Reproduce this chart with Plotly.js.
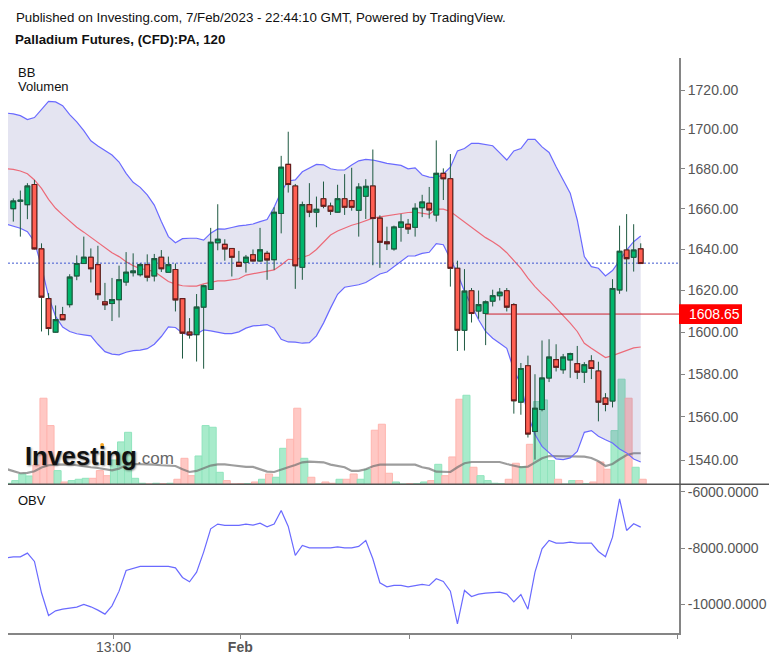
<!DOCTYPE html>
<html><head><meta charset="utf-8">
<script src="https://cdn.plot.ly/plotly-3.0.1.min.js"></script>
<style>html,body{margin:0;padding:0;background:#fff}</style></head>
<body><div id="chart" style="width:776px;height:662px"></div>
<script>
const open_ = [1660.1,1663.8,1662.1,1672.1,1640.3,1616.1,1600,1608.4,1613.2,1627.1,1633.1,1636.2,1632.6,1614.5,1613.7,1615.6,1624.1,1628.7,1627.7,1632.6,1627.1,1636.2,1628.9,1630.2,1616.1,1600,1598.8,1612,1620.5,1643.3,1642.5,1640.5,1633.7,1633.6,1637.4,1634.4,1638.1,1635,1657.7,1682.2,1671.4,1631.3,1662.1,1658.4,1665,1661.4,1658.4,1665,1664.1,1659.3,1666.3,1671.4,1655.4,1643.7,1640.3,1650.9,1652.4,1650.9,1660.6,1662.8,1657,1677.7,1675,1630.8,1600.9,1619.9,1610.1,1608.9,1614.9,1617.5,1619.9,1613.2,1566.9,1584,1553.2,1563.4,1578.2,1586.9,1582.1,1586.8,1585,1581,1586.3,1581.5,1568.8,1567.4,1620.3,1639.7,1636.2,1640.3];
const high = [1665.2,1669.1,1672.8,1674.4,1643,1618.7,1612.8,1612.1,1627.9,1637.1,1646.3,1640.5,1641.8,1623.7,1626.1,1632.1,1638.7,1638.1,1633.3,1637.6,1637.8,1639.7,1636.5,1633.1,1616.1,1606.7,1618.3,1622.8,1650.6,1662.3,1645,1640.5,1639.3,1637.3,1640,1650.6,1639.3,1660.8,1686.5,1698.7,1672.4,1663.6,1672.8,1666.1,1673.6,1663.1,1672,1677.3,1680.5,1672.8,1674.8,1689.7,1656.8,1651.2,1651.7,1657.5,1655,1662.8,1667,1670.9,1694.3,1680.2,1687.4,1634.5,1630.4,1621.2,1620,1615.2,1620.4,1621.2,1621.2,1613.9,1585.3,1588.8,1580,1596,1596.6,1594.2,1589.6,1590.2,1593.4,1585.7,1589,1585.9,1571.1,1625.5,1651.7,1657.4,1652.4,1643];
const low = [1653.7,1646.3,1654.9,1640,1600.3,1598.5,1599.8,1605.9,1611.8,1625,1633.1,1623.9,1615.5,1610.6,1605.3,1607,1622.3,1626.8,1626.8,1624.4,1624.4,1629,1628.9,1609.9,1587.4,1596.9,1586,1582.6,1620.3,1639.6,1634.5,1626.8,1631.6,1628.7,1634.2,1634,1625.2,1630,1647.9,1668.1,1620.8,1625.2,1655.9,1650.9,1660.3,1657,1658.2,1657,1659.1,1646.3,1655,1632.3,1631,1639.7,1639.4,1643.8,1647.6,1646.3,1655.9,1655.2,1653.7,1664.4,1621.9,1591,1591.2,1604.6,1606.4,1593.8,1612.3,1615.2,1609.9,1561.5,1561,1550.4,1540.2,1562.6,1576.3,1581.3,1580.2,1578.3,1577.7,1575.9,1577.7,1557.9,1562.6,1564.4,1618.4,1619.5,1629.2,1633];
const close_ = [1663.9,1664.3,1671.4,1640.3,1616.8,1601.7,1606,1605.9,1626.5,1633.1,1636.2,1630.6,1618,1613.1,1615.6,1625.2,1628.9,1629.5,1632.6,1626.5,1635.5,1630.6,1632.6,1615.5,1599.5,1598.6,1612,1622.3,1643.5,1645,1640.3,1636.2,1631.8,1636.2,1634.4,1639.8,1634.9,1658.3,1680.8,1672.1,1632,1662.1,1658.4,1659.8,1661.3,1658.8,1665,1660.8,1660.8,1670.8,1671.2,1655.2,1643.5,1642.8,1651,1653.5,1650.1,1660.3,1663.4,1659.5,1677.7,1675,1630.8,1600.9,1619.7,1608.9,1613.2,1614.5,1617.5,1619.2,1612,1567.5,1582.7,1552,1564,1578.2,1588.1,1583.3,1588.1,1589.8,1581,1584.5,1582.7,1566.9,1565.8,1621,1639.1,1635.5,1639.7,1633.1];

// first entry of each series below belongs to the candle just left of the visible window
const bbUpper = [1708.2,1707.8,1706.9,1704.9,1705.9,1709.8,1714.2,1713.9,1712,1707.4,1703.7,1699.3,1694.1,1691.5,1689.4,1686.9,1683.4,1677.7,1673.2,1670.7,1667,1661.9,1653.7,1646.3,1643.3,1645.3,1645.5,1645.5,1644.6,1648,1650.1,1650,1650.8,1651.6,1652,1652.5,1653.7,1654.7,1660.8,1668.6,1673.9,1674.4,1678.5,1680.5,1682.2,1682,1680,1679.4,1679.4,1681.9,1684,1684.7,1684.4,1683.6,1682.7,1682.2,1681.7,1680,1680.5,1676.9,1675.8,1675.4,1677.4,1680.8,1689,1690.2,1692.8,1692.8,1692.3,1691.6,1688,1684.4,1689,1690.2,1694.8,1694.8,1691,1688.2,1681,1674.4,1667.8,1654.5,1636.5,1631.6,1630.8,1627.1,1629.7,1634.5,1639.7,1643.8,1646.6];
const bbMiddle = [1680,1679.7,1678.9,1677.5,1674.4,1670.2,1664.7,1660.3,1657,1653.7,1650.9,1648.5,1646,1643.7,1641.2,1638.4,1636.5,1634,1632.1,1630.6,1630,1629.2,1626.8,1624.4,1623.1,1622.3,1622.1,1622.1,1623.2,1624,1624.7,1624.7,1625.2,1625.7,1627.5,1628.1,1628.6,1629.1,1630,1632.4,1635.2,1634.9,1636.2,1637.3,1640,1643.8,1647.1,1649.1,1650.7,1651.9,1652.9,1654,1655.4,1656,1656.5,1657,1657.8,1658.2,1658.4,1658,1657.3,1659.9,1659.9,1658.7,1656.2,1653.7,1651.2,1648.5,1645.8,1643.8,1641.4,1638.4,1634.5,1630.8,1626,1621.9,1618.4,1615.2,1611.5,1608,1604.3,1600.3,1594.7,1592.3,1590.2,1587.9,1588.8,1590,1591.5,1592.5,1592.9];
const bbLower = [1652.5,1651.6,1650.4,1648.7,1643.8,1631.6,1617.1,1607.5,1602.4,1600.3,1599.2,1598.7,1598.2,1594.2,1590.7,1589.5,1589.2,1590.4,1591.2,1591.4,1592.1,1594.2,1597.9,1602.5,1602.2,1599.5,1598.7,1599,1601.1,1600.6,1599.8,1599.3,1599.3,1600.1,1601.9,1603,1603.2,1603.6,1601.9,1596.6,1595.3,1595.2,1594.7,1595,1598.2,1604.3,1611.5,1618.2,1621.6,1622.3,1622.8,1623.9,1626,1628,1629,1631.6,1634,1636.8,1636.9,1638.1,1638.6,1642.8,1642.3,1635.7,1628.4,1619.5,1612.3,1605.9,1600.3,1597.1,1594.7,1592.3,1582.1,1575.1,1561,1551.8,1546.3,1543.3,1540.5,1540.2,1541,1544,1552.8,1553.6,1551,1549.4,1547.9,1545.1,1543.3,1540.5,1539.1];
const volume = [12,46,129,104,242,1076,734,171,29,46,63,75,75,171,108,304,530,650,75,13,4,13,8,13,63,325,108,354,734,713,150,46,4,8,8,29,63,129,88,450,563,951,325,88,4,29,13,63,63,129,63,188,676,751,138,29,2,8,8,29,46,250,108,342,1063,1113,213,108,46,13,8,63,263,221,500,1034,1055,296,63,2,46,46,8,29,279,188,671,1314,1076,213,63];
const volumeMA = [192,167,138,142,163,209,238,246,250,250,238,221,213,204,192,175,196,242,254,254,254,246,238,234,229,188,154,167,204,234,250,250,238,225,217,217,188,158,154,179,213,242,275,284,284,275,246,225,213,167,167,188,225,246,246,246,246,246,246,213,196,158,154,154,213,263,279,279,279,279,279,254,234,213,221,271,325,354,354,354,346,346,346,329,288,229,254,313,367,388,388];
const obv = [-8343,-8308,-8308,-8177,-8473,-9585,-10390,-10224,-10165,-10129,-10094,-9999,-10082,-10200,-10342,-10047,-9526,-8793,-8710,-8651,-8651,-8651,-8651,-8651,-8698,-9041,-9195,-8852,-8142,-7314,-7148,-7196,-7196,-7196,-7148,-7184,-7113,-7243,-7148,-6663,-7231,-8260,-7905,-7988,-7988,-7988,-7988,-7953,-7988,-7988,-7941,-7728,-8379,-9230,-9372,-9325,-9325,-9372,-9337,-9289,-9325,-9088,-9183,-9526,-10685,-9502,-9715,-9633,-9597,-9585,-9562,-9633,-9905,-9644,-10165,-8852,-8024,-7728,-7823,-7823,-7787,-7823,-7823,-7823,-8118,-8308,-7610,-6249,-7373,-7136,-7255];

const priceTicks = [1720,1700,1680,1660,1640,1620,1600,1580,1560,1540];
const obvTicks = [-6000,-8000,-10000];
const obvLabels = ["-6000.0000","-8000.0000","-10000.0000"];
const timeTicks = [14.2,32.2,56.2,79.2,94.2];
const timeLabels = ["13:00","<b>Feb</b>","","",""];
const lastClose = 1633.3, refPrice = 1608.65, refStart = 67;

const candleIdx = open_.map((_, i) => i);
const seriesIdx = bbUpper.map((_, i) => i - 1);
const W = 776, H = 662, L = 8, R = 679, T = 58, B = 633, SPLIT = 484.3;
const px = x => (x - L) / (R - L), py = y => (B - y) / (B - T);
const xRange = [-0.752, 94.43];
const splitFrac = py(SPLIT);
const isUp = [true].concat(close_.map((c, i) => c >= open_[i]));
const FONT = 'Liberation Sans, Arial, sans-serif';

const traces = [
 {type:'bar', x:seriesIdx.map(i => i + 0.28), y:volume, xaxis:'x', yaxis:'y', width:1,
  marker:{color:isUp.map(u => u ? '#A8EBCB' : '#FFC8C4'), line:{width:1, color:isUp.map(u => u ? '#90E4BD' : '#FFB5AF')}}},
 {type:'scatter', mode:'lines', x:seriesIdx, y:volumeMA, xaxis:'x', yaxis:'y', line:{color:'rgba(110,110,110,0.68)', width:2.2}},
 {type:'scatter', mode:'lines', x:seriesIdx, y:bbUpper, xaxis:'x', yaxis:'y2', line:{color:'#6a6aff', width:1.2}},
 {type:'scatter', mode:'lines', x:seriesIdx, y:bbLower, xaxis:'x', yaxis:'y2', line:{color:'#6a6aff', width:1.2}, fill:'tonexty', fillcolor:'rgba(50,50,150,0.135)'},
 {type:'scatter', mode:'lines', x:seriesIdx, y:bbMiddle, xaxis:'x', yaxis:'y2', line:{color:'#ec6a78', width:1.2}},
 {type:'scatter', mode:'lines', x:xRange, y:[lastClose,lastClose], xaxis:'x', yaxis:'y2', line:{color:'#3f58d0', width:1, dash:'2px,2px'}},
 {type:'scatter', mode:'lines', x:[refStart,xRange[1]], y:[refPrice,refPrice], xaxis:'x', yaxis:'y2', line:{color:'#cc1f2a', width:1}},
 {type:'candlestick', x:candleIdx, open:open_, high:high, low:low, close:close_, xaxis:'x', yaxis:'y3', whiskerwidth:0,
  increasing:{line:{color:'#1f5a42', width:1}, fillcolor:'#1f5a42'}, decreasing:{line:{color:'#1f5a42', width:1}, fillcolor:'#1f5a42'}},
 {type:'candlestick', x:candleIdx, open:open_, close:close_,
  high:open_.map((o, i) => Math.max(o, close_[i])), low:open_.map((o, i) => Math.min(o, close_[i])), xaxis:'x', yaxis:'y3', whiskerwidth:0,
  increasing:{line:{color:'#1d5c40', width:1.1}, fillcolor:'#00B56C'}, decreasing:{line:{color:'#6a1c1c', width:1.1}, fillcolor:'#FF5F52'}},
 {type:'scatter', mode:'lines', x:seriesIdx, y:obv, xaxis:'x', yaxis:'y4', line:{color:'#6a6aff', width:1.2}}
];

const logRange = [3.23553 - (SPLIT - 90) / 7708, 3.23553 + (90 - T) / 7708];
const priceAxis = {type:'log', range:logRange, fixedrange:true};
const txt = (text, x, y, size, color, extra) => Object.assign({text, x:px(x), y:py(y), xref:'paper', yref:'paper', xanchor:'left', yanchor:'middle', showarrow:false,
  font:{family:FONT, size, color}, borderpad:0}, extra || {});

const layout = {
 width:W, height:H, autosize:false, showlegend:false, paper_bgcolor:'#fff', plot_bgcolor:'#fff',
 margin:{l:L, r:W - R, t:T, b:H - B, pad:0}, bargap:0, boxmode:'overlay', boxgap:0.05, barmode:'overlay', hovermode:false,
 font:{family:FONT},
 xaxis:{range:xRange, anchor:'y4', fixedrange:true, rangeslider:{visible:false}, showgrid:false, zeroline:false, showline:true, linecolor:'#858585', linewidth:2,
  ticks:'outside', ticklen:4, tickcolor:'#858585', tickmode:'array', tickvals:timeTicks, ticktext:timeLabels, ticklabelstandoff:-4, tickfont:{family:FONT, size:14, color:'#555'}},
 yaxis:{domain:[splitFrac,1], range:[0,5329], visible:false, fixedrange:true},
 yaxis2:Object.assign({overlaying:'y', visible:false}, priceAxis),
 yaxis3:Object.assign({overlaying:'y', side:'right', anchor:'x', showgrid:false, zeroline:false, showline:true, linecolor:'#858585', linewidth:2,
  ticks:'outside', ticklen:4, tickcolor:'#858585', tickmode:'array', tickvals:priceTicks, ticktext:priceTicks.map(v => v.toFixed(2)), tickfont:{family:FONT, size:14, color:'#555'}}, priceAxis),
 yaxis4:{domain:[0,splitFrac], range:[-11011,-5736], side:'right', anchor:'x', fixedrange:true, showgrid:false, zeroline:false, showline:true, linecolor:'#858585', linewidth:2,
  ticks:'outside', ticklen:4, tickcolor:'#858585', tickmode:'array', tickvals:obvTicks, ticktext:obvLabels, tickfont:{family:FONT, size:14, color:'#555'}},
 shapes:[
  {type:'line', xref:'paper', yref:'paper', x0:0, x1:px(769), y0:splitFrac, y1:splitFrac, line:{color:'#555', width:1.5}},
  {type:'rect', xref:'paper', yref:'paper', x0:px(679), x1:px(742), y0:py(324), y1:py(304.3), fillcolor:'#f00', line:{width:0}},
  {type:'circle', xref:'paper', yref:'paper', x0:px(100.2), x1:px(104), y0:py(447), y1:py(443), fillcolor:'#f5a623', line:{width:0}}
 ],
 annotations:[
  txt('Published on Investing.com, 7/Feb/2023 - 22:44:10 GMT, Powered by TradingView.', 15, 17, 13.3, '#111'),
  txt('<b>Palladium Futures, (CFD):PA, 120</b>', 14, 40, 13.3, '#111'),
  txt('BB', 17, 72, 13, '#111'),
  txt('Volumen', 17, 87, 13, '#111'),
  txt('OBV', 17, 500, 13, '#111'),
  txt('1608.65', 688, 314, 14, '#fff'),
  txt('<b>Investing</b>', 24, 456, 25.5, '#111', {font:{family:FONT, size:25.5, color:'#111', shadow:'1px 1px 2px rgba(0,0,0,0.45)'}}),
  txt('.com', 136, 458, 17, '#666')
 ]
};
Plotly.newPlot('chart', traces, layout, {displayModeBar:false, staticPlot:true});
</script></body></html>
